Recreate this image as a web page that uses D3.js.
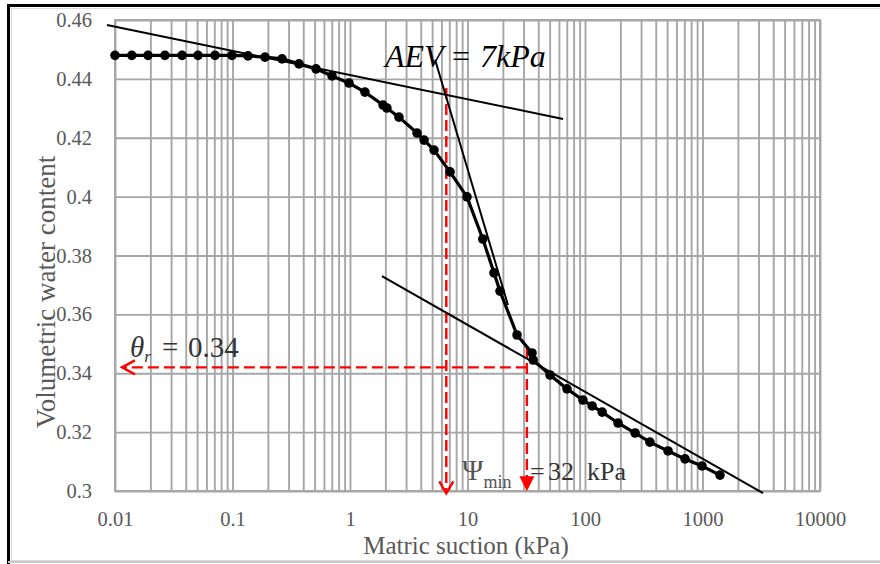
<!DOCTYPE html>
<html>
<head>
<meta charset="utf-8">
<script src="https://cdn.jsdelivr.net/npm/d3@7"></script>
<style>
	body { margin: 0; background: #fff; }
	svg { display: block; }
	svg text { font-family: "Liberation Serif", "DejaVu Serif", "Noto Serif", "Times New Roman", Times, serif; }
</style>
</head>
<body>
<svg id="swcc" width="880" height="564"></svg>
<script>
// SWCC data
const suction = [0.01, 0.0139, 0.0191, 0.0266, 0.0372, 0.0509, 0.071, 0.099, 0.1355, 0.189, 0.264, 0.368, 0.514, 0.703, 0.98, 1.34, 1.91, 2.06, 2.61, 3.72, 4.27, 5.19, 7.1, 9.9, 13.5, 16.8, 18.9, 26.4, 35.4, 36.2, 50.4, 70.3, 96, 115, 140, 191, 267, 357, 509, 710, 990, 1409];
const theta = [0.448, 0.448, 0.448, 0.448, 0.448, 0.448, 0.448, 0.448, 0.4478, 0.4474, 0.4468, 0.4451, 0.4434, 0.441, 0.4386, 0.4355, 0.4311, 0.4301, 0.427, 0.4216, 0.4192, 0.4158, 0.4084, 0.3999, 0.3856, 0.3741, 0.3679, 0.353, 0.3469, 0.3445, 0.3394, 0.3347, 0.3309, 0.3289, 0.3268, 0.3231, 0.3197, 0.3166, 0.3136, 0.3109, 0.3085, 0.3054];

// tangent lines, [[suction, theta], [suction, theta]]
const tangentLines = [
	[[0.00855, 0.4583], [65, 0.4264]],
	[[5.3, 0.4465], [22.1, 0.3632]],
	[[1.87, 0.373], [3272, 0.2993]]
];

// construction values
const aevSuction = 6.6, aevTheta = 0.4369;
const psiMinSuction = 32, psiMinTheta = 0.3489;
const thetaR = 0.342, thetaRArrowEnd = 0.01147;
const arrowTipTheta = 0.2992;

const xTicks = [0.01, 0.1, 1, 10, 100, 1000, 10000];
const xTickLabels = ['0.01', '0.1', '1', '10', '100', '1000', '10000'];
const yTicks = [0.3, 0.32, 0.34, 0.36, 0.38, 0.4, 0.42, 0.44, 0.46];
const yTickLabels = ['0.3', '0.32', '0.34', '0.36', '0.38', '0.4', '0.42', '0.44', '0.46'];

const serif = '"Liberation Serif", "DejaVu Serif", "Noto Serif", "Times New Roman", Times, serif';
const svg = d3.select('#swcc').attr('font-family', serif);

const //
	plotLeft = 115,
	plotRight = 820,
	plotTop = 20,
	plotBottom = 491;

const x = d3.scaleLog().domain([0.01, 10000]).range([plotLeft, plotRight]);
const y = d3.scaleLinear().domain([0.3, 0.46]).range([plotBottom, plotTop]);

// outer frame
svg.append('rect').attr('x', 11.5).attr('y', 8.5).attr('width', 880).attr('height', 552)
	.attr('fill', 'none').attr('stroke', '#d9d9d9').attr('stroke-width', 1);
svg.append('line').attr('x1', 7).attr('x2', 880).attr('y1', 5.5).attr('y2', 5.5)
	.attr('stroke', '#000').attr('stroke-width', 3);
svg.append('line').attr('x1', 8.5).attr('x2', 8.5).attr('y1', 4).attr('y2', 564)
	.attr('stroke', '#000').attr('stroke-width', 3);
svg.append('line').attr('x1', 8).attr('x2', 880).attr('y1', 562).attr('y2', 562)
	.attr('stroke', '#c8c8c8').attr('stroke-width', 2);

// grid: every 1..9 per decade, every 0.02 on theta
const minorX = [];
for (let e = -2; e < 4; e++) for (let m = 1; m < 10; m++) minorX.push(m * Math.pow(10, e));
minorX.push(10000);

const gridX = svg.append('g').attr('transform', `translate(0,${plotBottom})`)
	.call(d3.axisBottom(x).tickValues(minorX).tickSize(-(plotBottom - plotTop)).tickFormat(''));
const gridY = svg.append('g').attr('transform', `translate(${plotLeft},0)`)
	.call(d3.axisLeft(y).tickValues(yTicks).tickSize(-(plotRight - plotLeft)).tickFormat(''));
[gridX, gridY].forEach(g => {
	g.select('.domain').remove();
	g.selectAll('line').attr('stroke', '#a6a6a6').attr('stroke-width', 1.9);
});
svg.append('rect').attr('x', plotLeft).attr('y', plotTop)
	.attr('width', plotRight - plotLeft).attr('height', plotBottom - plotTop)
	.attr('fill', 'none').attr('stroke', '#a6a6a6').attr('stroke-width', 1.9);

// tick labels
const xAxis = svg.append('g').attr('transform', `translate(0,${plotBottom})`)
	.call(d3.axisBottom(x).tickValues(xTicks).tickSize(0).tickPadding(20)
		.tickFormat((d, i) => xTickLabels[i]));
const yAxis = svg.append('g').attr('transform', `translate(${plotLeft},0)`)
	.call(d3.axisLeft(y).tickValues(yTicks).tickSize(0).tickPadding(23)
		.tickFormat((d, i) => yTickLabels[i]));
[xAxis, yAxis].forEach(g => {
	g.attr('font-family', serif).attr('font-size', 20.5);
	g.select('.domain').remove();
	g.selectAll('text').attr('fill', '#595959');
});

// axis titles
svg.append('text').attr('x', 466).attr('y', 554).attr('text-anchor', 'middle')
	.attr('font-size', 25).attr('fill', '#595959').text('Matric suction (kPa)');
svg.append('text').attr('transform', 'translate(55,292) rotate(-90)').attr('text-anchor', 'middle')
	.attr('font-size', 27).attr('fill', '#595959').text('Volumetric water content');

// red dashed construction lines
const red = '#ff0000';
const dash = '11,5';
svg.append('line')
	.attr('x1', x(aevSuction)).attr('x2', x(aevSuction))
	.attr('y1', y(aevTheta)).attr('y2', y(arrowTipTheta) - 3)
	.attr('stroke', red).attr('stroke-width', 2.4).attr('stroke-dasharray', dash);
svg.append('line')
	.attr('x1', x(psiMinSuction)).attr('x2', x(psiMinSuction))
	.attr('y1', y(psiMinTheta)).attr('y2', y(arrowTipTheta) - 12)
	.attr('stroke', red).attr('stroke-width', 2.4).attr('stroke-dasharray', dash);
svg.append('line')
	.attr('x1', x(psiMinSuction)).attr('x2', x(thetaRArrowEnd) + 3)
	.attr('y1', y(thetaR)).attr('y2', y(thetaR))
	.attr('stroke', red).attr('stroke-width', 2.4).attr('stroke-dasharray', dash);

// arrow heads
const ax = x(aevSuction), ay = y(arrowTipTheta);
svg.append('path').attr('d', `M${ax - 7},${ay - 12} L${ax},${ay} L${ax + 7},${ay - 12}`)
	.attr('fill', 'none').attr('stroke', red).attr('stroke-width', 2.4);
const px = x(psiMinSuction), py = y(arrowTipTheta) - 2;
svg.append('path').attr('d', `M${px - 7.5},${py - 15} L${px},${py} L${px + 7.5},${py - 15} Z`)
	.attr('fill', red);
const tx = x(thetaRArrowEnd), ty = y(thetaR);
svg.append('path').attr('d', `M${tx + 13},${ty - 7} L${tx},${ty} L${tx + 13},${ty + 7}`)
	.attr('fill', 'none').attr('stroke', red).attr('stroke-width', 2.4);

// tangents
svg.append('g').selectAll('line').data(tangentLines).enter().append('line')
	.attr('x1', d => x(d[0][0])).attr('y1', d => y(d[0][1]))
	.attr('x2', d => x(d[1][0])).attr('y2', d => y(d[1][1]))
	.attr('stroke', '#000').attr('stroke-width', 2);

// measured curve
const points = suction.map((s, i) => [s, theta[i]]);
svg.append('path').datum(points)
	.attr('d', d3.line().x(d => x(d[0])).y(d => y(d[1])))
	.attr('fill', 'none').attr('stroke', '#000').attr('stroke-width', 3.2);
svg.append('g').selectAll('circle').data(points).enter().append('circle')
	.attr('cx', d => x(d[0])).attr('cy', d => y(d[1])).attr('r', 4.8)
	.attr('fill', '#000');

// annotations
const aev = svg.append('text').attr('y', 67).attr('font-size', 32).attr('fill', '#000');
aev.append('tspan').attr('x', 385).attr('font-style', 'italic').text('AEV');
aev.append('tspan').attr('x', 452).text('=');
aev.append('tspan').attr('x', 480).attr('font-style', 'italic').text('7kPa');

const thr = svg.append('text').attr('y', 357).attr('font-size', 29).attr('fill', '#333');
thr.append('tspan').attr('x', 130).attr('font-style', 'italic').text('θ');
thr.append('tspan').attr('font-size', 17).attr('font-style', 'italic').attr('dy', 5).text('r');
thr.append('tspan').attr('x', 162).attr('dy', -5).text('=');
thr.append('tspan').attr('x', 188).text('0.34');

const psi = svg.append('text').attr('y', 480).attr('font-size', 26).attr('fill', '#333');
psi.append('tspan').attr('x', 462).attr('font-size', 29).attr('fill', '#555').text('Ψ');
psi.append('tspan').attr('font-size', 18).attr('fill', '#555').attr('dy', 8).text('min');
psi.append('tspan').attr('x', 530).attr('dy', -8).text('=');
psi.append('tspan').attr('x', 548).text('32');
psi.append('tspan').attr('x', 587).text('kPa');
</script>
</body>
</html>
